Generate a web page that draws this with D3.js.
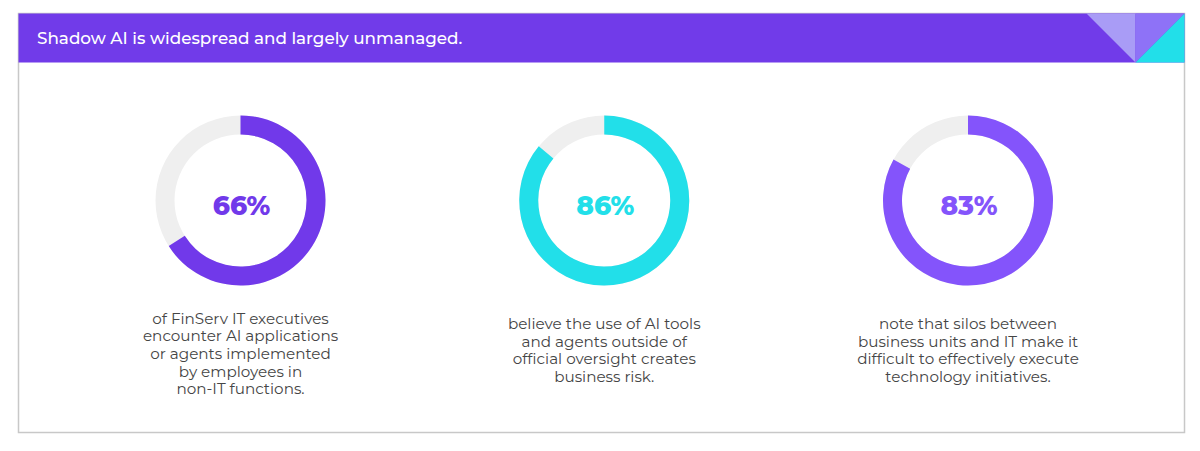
<!DOCTYPE html>
<html>
<head>
<meta charset="utf-8">
<script src="https://cdn.jsdelivr.net/npm/d3@7"></script>
<style>
  html, body { margin: 0; padding: 0; background: #ffffff; }
  svg { display: block; }
</style>
</head>
<body>
<svg id="chart" width="1200" height="451"></svg>
<script>
// ---- data ----
const title = "Shadow AI is widespread and largely unmanaged.";
const categories = ["FinServ IT executives encountering shadow AI", "Shadow AI creates business risk", "Silos hinder technology initiatives"];
const values = [66, 86, 83];
const valueLabels = ["66%", "86%", "83%"];
const colors = ["#7139ea", "#22dfe9", "#8454fb"];
const descriptions = [
  ["of FinServ IT executives", "encounter AI applications", "or agents implemented", "by employees in", "non-IT functions."],
  ["believe the use of AI tools", "and agents outside of", "official oversight creates", "business risk."],
  ["note that silos between", "business units and IT make it", "difficult to effectively execute", "technology initiatives."]
];

// ---- layout ----
const svg = d3.select("#chart");
const box = {x: 18.5, y: 13.5, w: 1166, h: 419};
const headerH = 49;

// outer frame
svg.append("rect")
  .attr("x", box.x).attr("y", box.y).attr("width", box.w).attr("height", box.h)
  .attr("fill", "#ffffff").attr("stroke", "#c8c8c8").attr("stroke-width", 1.5);

// header band
const hx0 = box.x, hy0 = box.y, hx1 = box.x + box.w, hy1 = box.y + headerH;
svg.append("rect")
  .attr("x", hx0).attr("y", hy0).attr("width", box.w).attr("height", headerH)
  .attr("fill", "#713be9");

// decorative triangles at right end of header
const tw = headerH;
const xa = hx1 - 2 * tw, xb = hx1 - tw;
const tri = [
  {pts: [[xa, hy0], [xb, hy0], [xb, hy1]], fill: "#a99cf6"},
  {pts: [[xb, hy0], [hx1, hy0], [xb, hy1]], fill: "#8e72f7"},
  {pts: [[xb, hy1], [hx1, hy0], [hx1, hy1]], fill: "#22dfe9"}
];
svg.selectAll("path.tri").data(tri).join("path")
  .attr("class", "tri")
  .attr("d", d => "M" + d.pts.map(p => p.join(",")).join("L") + "Z")
  .attr("fill", d => d.fill);

svg.append("text")
  .attr("x", 37).attr("y", 44)
  .attr("fill", "#ffffff")
  .attr("font-family", "Montserrat, 'Open Sans', sans-serif")
  .attr("font-size", 16.8)
  .attr("font-weight", 500)
  .text(title);

// ---- donuts ----
const xScale = d3.scalePoint().domain(d3.range(values.length)).range([240.5, 968]);
const cy = 200.5;
const outerR = 85, innerR = 66;
const angle = d3.scaleLinear().domain([0, 100]).range([0, 2 * Math.PI]);
const arc = d3.arc().innerRadius(innerR).outerRadius(outerR);

const g = svg.selectAll("g.donut").data(values).join("g")
  .attr("class", "donut")
  .attr("transform", (d, i) => `translate(${xScale(i)},${cy})`);

g.append("path")
  .attr("d", arc({startAngle: 0, endAngle: 2 * Math.PI}))
  .attr("fill", "#efefef");

g.append("path")
  .attr("d", d => arc({startAngle: 0, endAngle: angle(d)}))
  .attr("fill", (d, i) => colors[i]);

g.append("text")
  .attr("x", 1).attr("y", 14)
  .attr("text-anchor", "middle")
  .attr("font-family", "Montserrat, Inter, sans-serif")
  .attr("font-size", 26.5)
  .attr("font-weight", 800)
  .attr("fill", (d, i) => colors[i])
  .text((d, i) => valueLabels[i]);

// ---- descriptions ----
const lineH = 17.7;
const descCenter = [353.5, 350, 350];
descriptions.forEach((lines, i) => {
  const t = svg.append("text")
    .attr("text-anchor", "middle")
    .attr("font-family", "Montserrat, 'Open Sans', sans-serif")
    .attr("font-size", 15.2)
    .attr("fill", "#454545");
  const y0 = descCenter[i] - (lines.length - 1) * lineH / 2 + 5.5;
  lines.forEach((l, k) => {
    t.append("tspan").attr("x", xScale(i)).attr("y", y0 + k * lineH).text(l);
  });
});
</script>
</body>
</html>
